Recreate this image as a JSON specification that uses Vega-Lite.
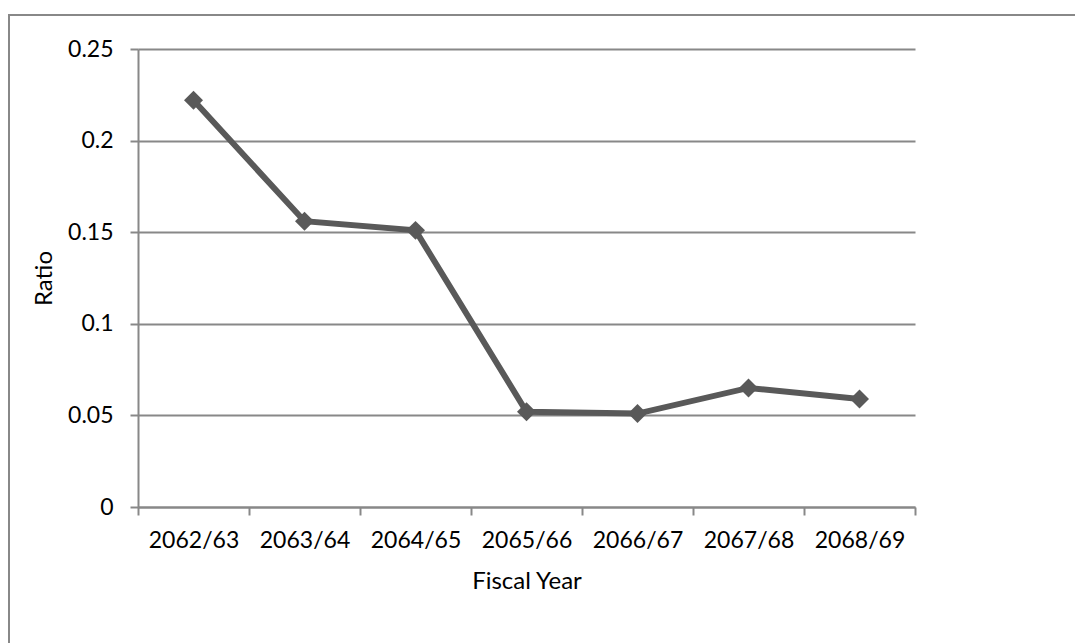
{
  "$schema": "https://vega.github.io/schema/vega-lite/v6.json",
  "autosize": {"type": "none"},
  "width": 777,
  "height": 458,
  "padding": {"left": 138, "top": 49, "right": 160, "bottom": 136},
  "background": "white",
  "config": {
    "font": "Lato",
    "view": {"stroke": null},
    "axis": {
      "labelFont": "Lato",
      "titleFont": "Lato",
      "labelFontSize": 23,
      "titleFontSize": 24,
      "labelColor": "#000000",
      "titleColor": "#000000",
      "titleFontWeight": "normal",
      "domainColor": "#888888",
      "domainWidth": 2,
      "tickColor": "#888888",
      "tickWidth": 2,
      "tickSize": 8,
      "gridColor": "#888888",
      "gridWidth": 2
    }
  },
  "layer": [
    {
      "data": {"values": [{}]},
      "mark": {"type": "rect", "fill": null, "stroke": "#888888", "strokeWidth": 2},
      "encoding": {
        "x": {"value": -129},
        "x2": {"value": 947},
        "y": {"value": -34},
        "y2": {"value": 610}
      }
    },
    {
      "data": {
        "values": [
          {"year": "2062/63", "ratio": 0.222},
          {"year": "2063/64", "ratio": 0.156},
          {"year": "2064/65", "ratio": 0.151},
          {"year": "2065/66", "ratio": 0.052},
          {"year": "2066/67", "ratio": 0.051},
          {"year": "2067/68", "ratio": 0.065},
          {"year": "2068/69", "ratio": 0.059}
        ]
      },
      "mark": {
        "type": "line",
        "color": "#595959",
        "strokeWidth": 6,
        "point": {"shape": "diamond", "size": 360, "filled": true, "color": "#595959", "opacity": 1}
      },
      "encoding": {
        "x": {
          "field": "year",
          "type": "ordinal",
          "sort": null,
          "scale": {"type": "band", "paddingInner": 0, "paddingOuter": 0},
          "axis": {
            "title": "Fiscal Year",
            "labelAngle": 0,
            "tickBand": "extent",
            "grid": false,
            "labelPadding": 14,
            "titlePadding": 17
          }
        },
        "y": {
          "field": "ratio",
          "type": "quantitative",
          "scale": {"domain": [0, 0.25], "nice": false},
          "axis": {
            "title": "Ratio",
            "values": [0, 0.05, 0.1, 0.15, 0.2, 0.25],
            "format": "~g",
            "grid": true,
            "labelPadding": 17,
            "titlePadding": 11
          }
        }
      }
    }
  ]
}
